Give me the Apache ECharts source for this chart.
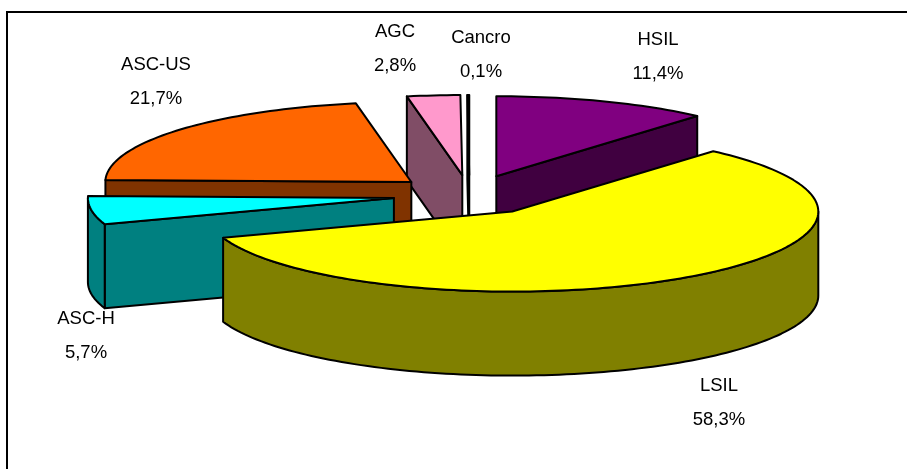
<!DOCTYPE html>
<html>
<head>
<meta charset="utf-8">
<style>
html, body { margin: 0; padding: 0; background: #fff; }
#chart { width: 907px; height: 469px; }
</style>
<script src="https://cdn.jsdelivr.net/npm/echarts@6/dist/echarts.min.js"></script>
</head>
<body>
<div id="chart"></div>
<script>
// valori del grafico, in senso orario dalle ore 12
const categories = ['HSIL', 'LSIL', 'ASC-H', 'ASC-US', 'AGC', 'Cancro'];
const values = [11.4, 58.3, 5.7, 21.7, 2.8, 0.1];
const topColors = ['#800080', '#FFFF00', '#00FFFF', '#FF6600', '#FF99CC', '#FFFFFF'];
const sideColors = ['#400040', '#808000', '#008080', '#803300', '#804D66', '#808080'];

// centro delle etichette
const labelPos = [[658, 57], [719, 403], [86, 336], [156, 82], [395, 49], [481, 55]];

// geometria della torta
const cx = 469.5, cy = 195, rx = 306, ry = 80, depth = 84, explode = 0.25;

const total = values.reduce((a, b) => a + b, 0);
const starts = [];
values.reduce((acc, v, i) => { starts[i] = acc; return acc + v; }, 0);

function toAngle(v) {
    return v / total * Math.PI * 2;
}
function rim(o, a) {
    return [o[0] + rx * Math.sin(a), o[1] - ry * Math.cos(a)];
}
function down(p) {
    return [p[0], p[1] + depth];
}
function arc(o, a0, a1) {
    const n = Math.max(2, Math.ceil((a1 - a0) * 40));
    const pts = [];
    for (let i = 0; i <= n; i++) {
        pts.push(rim(o, a0 + (a1 - a0) * i / n));
    }
    return pts;
}
function poly(points, fill, z2) {
    return {
        type: 'polygon',
        z2: z2,
        shape: { points: points },
        style: { fill: fill, stroke: '#000', lineWidth: 2, lineJoin: 'round' }
    };
}
function radialFace(o, a, fill, z2) {
    const p = rim(o, a);
    return poly([o, p, down(p), down(o)], fill, z2);
}

function renderSlice(params, api) {
    const i = params.dataIndex;
    const a0 = toAngle(starts[i]);
    const a1 = a0 + toAngle(api.value(0));
    const mid = (a0 + a1) / 2;
    const o = [cx + explode * rx * Math.sin(mid), cy - explode * ry * Math.cos(mid)];
    const z = Math.round(o[1] * 10);
    const children = [];

    // facce radiali, solo quelle rivolte verso chi guarda
    if (Math.sin(a0) < -1e-6) children.push(radialFace(o, a0, sideColors[i], z));
    if (Math.sin(a1) > 1e-6) children.push(radialFace(o, a1, sideColors[i], z));
    // bordo esterno
    const b0 = Math.max(a0, Math.PI / 2), b1 = Math.min(a1, Math.PI * 1.5);
    if (b1 > b0) {
        const front = arc(o, b0, b1);
        children.push(poly(front.concat(front.map(down).reverse()), sideColors[i], z + 1));
    }
    // faccia superiore
    children.push(poly([o].concat(arc(o, a0, a1)), topColors[i], z + 2));
    // etichetta
    children.push({
        type: 'text',
        z2: 100000,
        style: {
            x: labelPos[i][0],
            y: labelPos[i][1],
            text: categories[i] + '\n' + api.value(0).toFixed(1).replace('.', ',') + '%',
            font: '18.5px "Liberation Sans", Arial, sans-serif',
            fill: '#000',
            align: 'center',
            verticalAlign: 'middle',
            lineHeight: 34
        }
    });
    return { type: 'group', children: children };
}

const myChart = echarts.init(document.getElementById('chart'));
myChart.setOption({
    animation: false,
    backgroundColor: '#fff',
    graphic: [{
        type: 'polyline',
        shape: { points: [[7, 469], [7, 12], [907, 12]] },
        style: { fill: null, stroke: '#000', lineWidth: 2 }
    }],
    series: [{
        type: 'custom',
        coordinateSystem: 'none',
        silent: true,
        data: values.map(v => [v]),
        renderItem: renderSlice
    }]
});
</script>
</body>
</html>
